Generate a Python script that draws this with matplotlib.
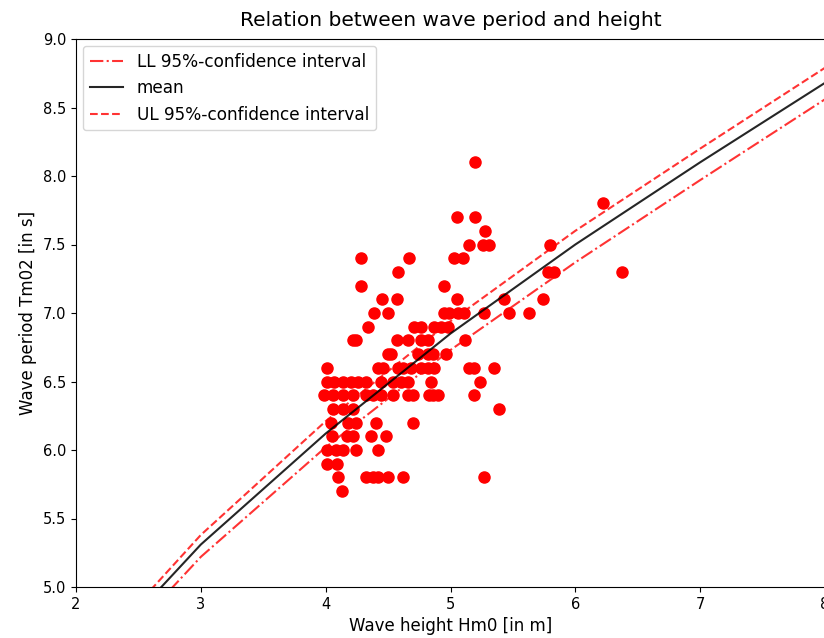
import matplotlib
matplotlib.use('Agg')
import matplotlib.pyplot as plt

# observed wave height / period pairs, grouped by period row
rows = {
    8.1: [5.20],
    7.8: [6.22],
    7.7: [5.05, 5.20],
    7.6: [5.28],
    7.5: [5.15, 5.26, 5.31, 5.80],
    7.4: [4.28, 4.67, 5.03, 5.10],
    7.3: [4.58, 5.78, 5.83, 6.37],
    7.2: [4.28, 4.95],
    7.1: [4.45, 4.57, 5.05, 5.43, 5.74],
    7.0: [4.39, 4.50, 4.95, 4.99, 5.06, 5.11, 5.27, 5.47, 5.63],
    6.9: [4.34, 4.71, 4.76, 4.87, 4.92, 4.98],
    6.8: [4.22, 4.24, 4.57, 4.66, 4.76, 4.82, 5.12],
    6.7: [4.50, 4.52, 4.74, 4.82, 4.86, 4.96],
    6.6: [4.01, 4.42, 4.46, 4.58, 4.62, 4.68, 4.76, 4.82, 4.87, 5.15, 5.19, 5.35],
    6.5: [4.01, 4.07, 4.14, 4.20, 4.26, 4.32, 4.44, 4.54, 4.60, 4.66, 4.84, 5.24],
    6.4: [3.99, 4.06, 4.14, 4.22, 4.32, 4.38, 4.44, 4.54, 4.66, 4.70, 4.83,
          4.86, 4.90, 5.19],
    6.3: [4.06, 4.14, 4.22, 5.39],
    6.2: [4.04, 4.18, 4.24, 4.40, 4.70],
    6.1: [4.05, 4.17, 4.22, 4.36, 4.48],
    6.0: [4.01, 4.08, 4.14, 4.24, 4.42],
    5.9: [4.01, 4.09],
    5.8: [4.10, 4.32, 4.38, 4.42, 4.50, 4.62, 5.27],
    5.7: [4.13],
}
hm0 = [h for t in rows for h in rows[t]]
tm02 = [t for t in rows for h in rows[t]]

# fitted relation and its confidence band
x_fit = [2, 3, 4, 5, 6, 7, 8]
mean_fit = [4.33, 5.31, 6.12, 6.85, 7.50, 8.10, 8.68]
ul_fit = [4.38, 5.38, 6.21, 6.94, 7.60, 8.20, 8.79]
ll_fit = [4.24, 5.22, 6.02, 6.73, 7.37, 7.97, 8.56]

fig = plt.figure(figsize=(8.24, 6.38), dpi=100)
ax = fig.add_axes([76 / 824, 51 / 638, 749 / 824, 548 / 638])

ax.plot(hm0, tm02, 'o', color='red', markersize=8)
ax.plot(x_fit, ll_fit, '-.', color='red', alpha=0.8, label='LL 95%-confidence interval')
ax.plot(x_fit, mean_fit, '-', color='black', alpha=0.85, label='mean')
ax.plot(x_fit, ul_fit, '--', color='red', alpha=0.8, label='UL 95%-confidence interval')

ax.set_xlim(2, 8)
ax.set_ylim(5, 9)
ax.tick_params(labelsize=10.5)
ax.set_xlabel('Wave height Hm0 [in m]', fontsize=12)
ax.set_ylabel('Wave period Tm02 [in s]', fontsize=12)
ax.set_title('Relation between wave period and height', fontsize=14.5, pad=9)
ax.legend(loc='upper left', fontsize=12.2, borderaxespad=0.4)

fig.savefig('out.png', dpi=100)
